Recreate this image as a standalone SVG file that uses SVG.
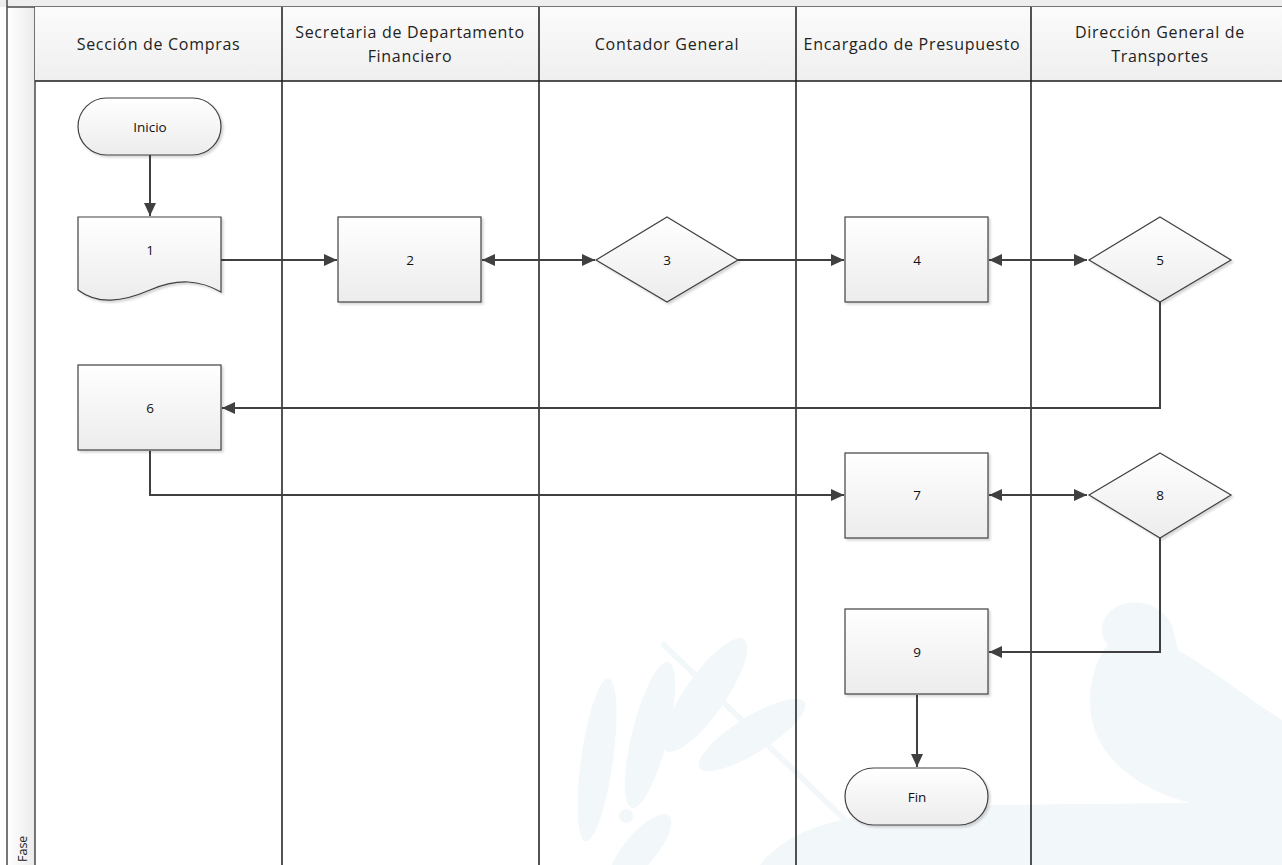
<svg xmlns="http://www.w3.org/2000/svg" width="1282" height="865" viewBox="0 0 1282 865">
  <defs>
    <linearGradient id="shapeFill" x1="0" y1="0" x2="0" y2="1">
      <stop offset="0" stop-color="#ffffff"/>
      <stop offset="1" stop-color="#ececec"/>
    </linearGradient>
    <linearGradient id="headFill" x1="0" y1="0" x2="0" y2="1">
      <stop offset="0" stop-color="#fbfbfb"/>
      <stop offset="1" stop-color="#efefef"/>
    </linearGradient>
    <linearGradient id="barFill" x1="0" y1="0" x2="1" y2="0">
      <stop offset="0" stop-color="#ffffff"/>
      <stop offset="1" stop-color="#ebebeb"/>
    </linearGradient>
    <filter id="shadow" x="-10%" y="-10%" width="125%" height="130%">
      <feDropShadow dx="2" dy="2" stdDeviation="1.2" flood-color="#000" flood-opacity="0.16"/>
    </filter>
    <marker id="arrow" markerUnits="userSpaceOnUse" markerWidth="14" markerHeight="12" refX="13" refY="6" orient="auto-start-reverse">
      <path d="M0,0 L13,6 L0,12 Z" fill="#404040"/>
    </marker>
  </defs>
  <style>
    .lane { stroke: #1a1a1a; stroke-width: 1.5; fill: none; }
    .frame { stroke: #4a4a4a; stroke-width: 1.5; }
    .head { font-family: "Open Sans", "Noto Sans", sans-serif; font-size: 16px; letter-spacing: 0.7px; fill: #222; text-anchor: middle; }
    .node { fill: url(#shapeFill); stroke: #404040; stroke-width: 1.2; filter: url(#shadow); }
    .label { font-family: "Open Sans", "Noto Sans", sans-serif; font-size: 13.5px; fill: #111; text-anchor: middle; dominant-baseline: central; }
    .conn { stroke: #404040; stroke-width: 2; fill: none; }
    .mark { fill: #f2f7fa; }
  </style>

  <rect width="1282" height="865" fill="#ffffff"/>

  <!-- faint background emblem: olive branch and bird -->
  <g id="emblem">
    <path class="mark" d="M660,645 L664,641 L870,840 L866,844 Z"/>
    <ellipse class="mark" cx="597" cy="760" rx="16" ry="82" transform="rotate(8 597 760)"/>
    <ellipse class="mark" cx="650" cy="735" rx="18" ry="75" transform="rotate(14 650 735)"/>
    <ellipse class="mark" cx="705" cy="695" rx="20" ry="68" transform="rotate(35 705 695)"/>
    <ellipse class="mark" cx="752" cy="735" rx="18" ry="62" transform="rotate(58 752 735)"/>
    <ellipse class="mark" cx="640" cy="850" rx="16" ry="45" transform="rotate(40 640 850)"/>
    <circle class="mark" cx="626" cy="816" r="7"/>
    <circle class="mark" cx="648" cy="840" r="7"/>
    <path class="mark" d="M1118,606 C1135,598 1160,602 1172,625 L1178,650 C1210,668 1250,700 1282,720 L1282,865 L760,865 C790,830 830,810 1000,805 L1190,803 C1140,790 1100,760 1092,720 C1086,690 1095,660 1108,645 C1098,635 1100,615 1118,606 Z"/>
  </g>

  <!-- pool frame and phase bar -->
  <g id="frame">
    <rect x="0" y="0" width="1282" height="7" fill="#eeeeee"/>
    <rect x="7" y="7" width="28" height="858" fill="url(#barFill)"/>
    <line class="frame" x1="7" y1="0" x2="7" y2="865"/>
    <line class="frame" x1="35" y1="7" x2="35" y2="865"/>
    <line class="frame" x1="7" y1="7" x2="1282" y2="7"/>
    <text x="22" y="862" transform="rotate(-90 22 862)" font-family="'Open Sans', 'Noto Sans', sans-serif" font-size="12.5px" fill="#222" dominant-baseline="central">Fase</text>
  </g>

  <!-- lane headers -->
  <g id="lanes">
    <rect x="35" y="7" width="1247" height="74" fill="url(#headFill)"/>
    <line class="lane" x1="35" y1="81" x2="1282" y2="81"/>
    <line class="lane" x1="282" y1="7" x2="282" y2="865"/>
    <line class="lane" x1="539" y1="7" x2="539" y2="865"/>
    <line class="lane" x1="796" y1="7" x2="796" y2="865"/>
    <line class="lane" x1="1031" y1="7" x2="1031" y2="865"/>
    <text class="head" x="158.5" y="50">Sección de Compras</text>
    <text class="head" x="410" y="38">Secretaria de Departamento</text>
    <text class="head" x="410" y="62">Financiero</text>
    <text class="head" x="667" y="50">Contador General</text>
    <text class="head" x="912" y="50">Encargado de Presupuesto</text>
    <text class="head" x="1160" y="38">Dirección General de</text>
    <text class="head" x="1160" y="62">Transportes</text>
  </g>

  <!-- connectors -->
  <g id="connectors">
    <path class="conn" d="M150,155 V216" marker-end="url(#arrow)"/>
    <path class="conn" d="M221,260 H337" marker-end="url(#arrow)"/>
    <path class="conn" d="M482,260 H595" marker-start="url(#arrow)" marker-end="url(#arrow)"/>
    <path class="conn" d="M738,260 H844" marker-end="url(#arrow)"/>
    <path class="conn" d="M989,260 H1087" marker-start="url(#arrow)" marker-end="url(#arrow)"/>
    <path class="conn" d="M1160,302 V408 H222" marker-end="url(#arrow)"/>
    <path class="conn" d="M150,451 V495 H844" marker-end="url(#arrow)"/>
    <path class="conn" d="M989,495 H1087" marker-start="url(#arrow)" marker-end="url(#arrow)"/>
    <path class="conn" d="M1160,538 V652 H989" marker-end="url(#arrow)"/>
    <path class="conn" d="M917,695 V767" marker-end="url(#arrow)"/>
  </g>

  <g id="inicio">
    <rect class="node" x="78" y="98" width="143" height="57" rx="28.5"/>
    <text class="label" x="150" y="127">Inicio</text>
  </g>
  <g id="n1">
    <path class="node" d="M78,217 H221 V292 C200,280 178,278 150,290 C122,302 98,305 78,290 Z"/>
    <text class="label" x="150" y="250">1</text>
  </g>
  <g id="n2">
    <rect class="node" x="338" y="217" width="143" height="85"/>
    <text class="label" x="410" y="260">2</text>
  </g>
  <g id="n3">
    <path class="node" d="M667,217 L738,260 L667,302 L596,260 Z"/>
    <text class="label" x="667" y="260">3</text>
  </g>
  <g id="n4">
    <rect class="node" x="845" y="217" width="143" height="85"/>
    <text class="label" x="917" y="260">4</text>
  </g>
  <g id="n5">
    <path class="node" d="M1160,217 L1231,260 L1160,302 L1089,260 Z"/>
    <text class="label" x="1160" y="260">5</text>
  </g>
  <g id="n6">
    <rect class="node" x="78" y="365" width="143" height="85"/>
    <text class="label" x="150" y="408">6</text>
  </g>
  <g id="n7">
    <rect class="node" x="845" y="453" width="143" height="85"/>
    <text class="label" x="917" y="495">7</text>
  </g>
  <g id="n8">
    <path class="node" d="M1160,453 L1231,495 L1160,538 L1089,495 Z"/>
    <text class="label" x="1160" y="495">8</text>
  </g>
  <g id="n9">
    <rect class="node" x="845" y="609" width="143" height="85"/>
    <text class="label" x="917" y="652">9</text>
  </g>
  <g id="fin">
    <rect class="node" x="845" y="768" width="143" height="57" rx="28.5"/>
    <text class="label" x="917" y="797">Fin</text>
  </g>
</svg>
